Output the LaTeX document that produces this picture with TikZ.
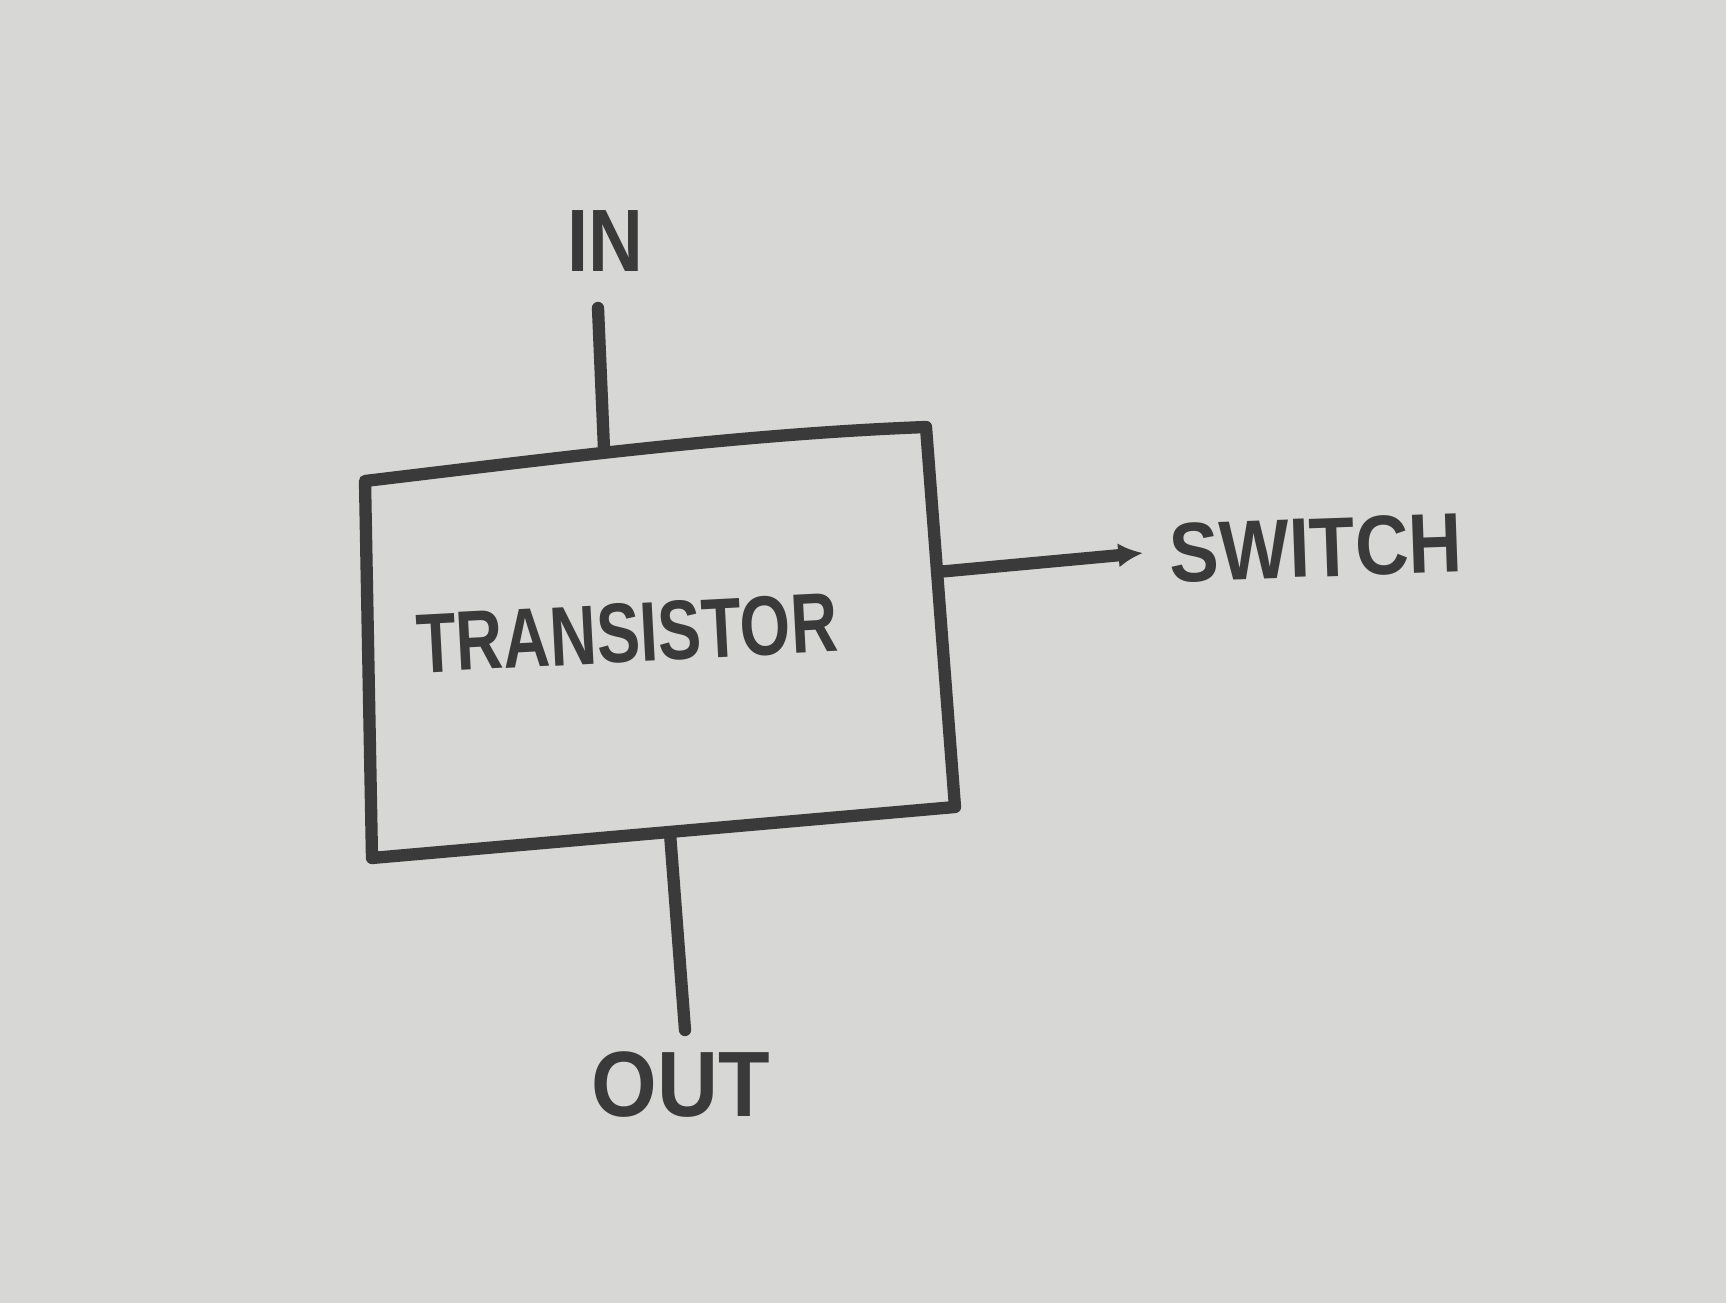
\documentclass[tikz,border=0pt]{standalone}
\usepackage{fontspec}
\setmainfont{Liberation Sans}
\usetikzlibrary{arrows.meta}
\definecolor{paper}{HTML}{D7D7D5}
\definecolor{ink}{HTML}{3A3A3A}
\tikzset{
  pen/.style={draw=ink, line width=3.5pt, line cap=round, line join=round},
  label/.style={text=ink, font=\bfseries\fontsize{24}{28}\selectfont, inner sep=0pt},
}
\begin{document}
\begin{tikzpicture}[x=0.01cm, y=-0.01cm]
  \fill[paper] (0,0) rectangle (1726,1303);
  \useasboundingbox (0,0) rectangle (1726,1303);
  % box corners
  \coordinate (tl) at (365,481);
  \coordinate (tr) at (926,427);
  \coordinate (br) at (955,807);
  \coordinate (bl) at (372,858);
  % box
  \draw[pen] (tl) .. controls (550,459) and (740,434) .. (tr)
             -- (br) -- (bl) -- cycle;
  % pins on the box
  \coordinate (inpin) at (604,449);
  \coordinate (outpin) at (670,833);
  \coordinate (swpin) at (937,572);
  % free ends
  \coordinate (inend) at (598,308);
  \coordinate (outend) at (685,1030);
  \coordinate (swend) at (1143,553);
  % labels
  \node[label] (inlbl) at (605,241) {\scalebox{0.9}[1.05]{IN}};
  \node[label, rotate=2] (swlbl) at (1316,548) {\scalebox{0.88}[1]{SWITCH}};
  \node[label, rotate=3] (tlbl) at (627,633) {\scalebox{0.77}[1]{TRANSISTOR}};
  \node[label] (outlbl) at (681,1085) {\scalebox{1}[1.1]{OUT}};
  % connectors
  \draw[pen] (inend) -- (inpin);
  \draw[pen] (outpin) -- (outend);
  \draw[pen, -{Latex[length=7pt,width=7pt]}] (swpin) -- (swend);
\end{tikzpicture}
\end{document}
